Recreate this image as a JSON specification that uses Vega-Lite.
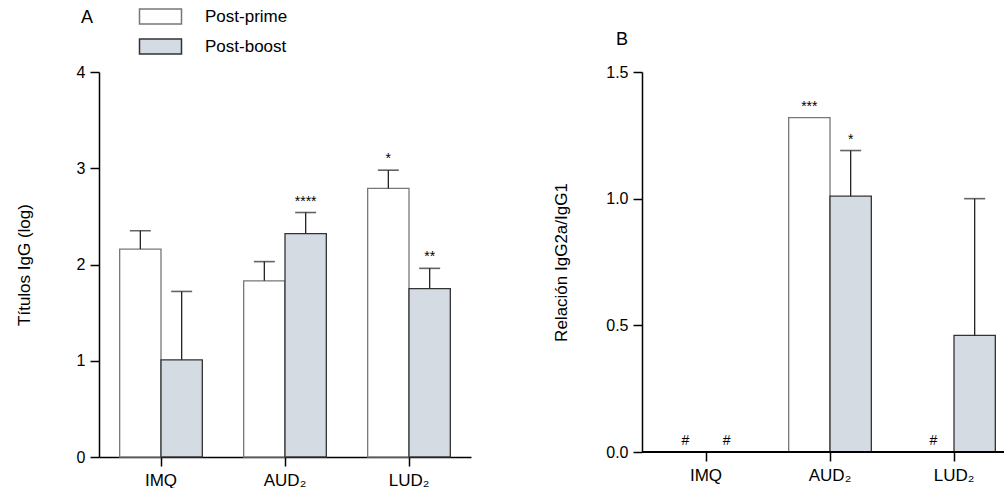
{
  "$schema": "https://vega.github.io/schema/vega-lite/v6.json",
  "padding": {"left": 15, "top": 5, "right": 0, "bottom": 0},
  "background": "white",
  "datasets": {
    "A": [
      {"group": "IMQ", "time": "Post-prime", "value": 2.16, "err": 2.35, "sig": ""},
      {"group": "IMQ", "time": "Post-boost", "value": 1.01, "err": 1.72, "sig": ""},
      {"group": "AUD₂", "time": "Post-prime", "value": 1.83, "err": 2.03, "sig": ""},
      {"group": "AUD₂", "time": "Post-boost", "value": 2.32, "err": 2.54, "sig": "****"},
      {"group": "LUD₂", "time": "Post-prime", "value": 2.79, "err": 2.98, "sig": "*"},
      {"group": "LUD₂", "time": "Post-boost", "value": 1.75, "err": 1.96, "sig": "**"}
    ],
    "B": [
      {"group": "IMQ", "time": "Post-prime", "value": 0, "err": 0, "sig": "#"},
      {"group": "IMQ", "time": "Post-boost", "value": 0, "err": 0, "sig": "#"},
      {"group": "AUD₂", "time": "Post-prime", "value": 1.32, "err": 1.32, "sig": "***"},
      {"group": "AUD₂", "time": "Post-boost", "value": 1.01, "err": 1.19, "sig": "*"},
      {"group": "LUD₂", "time": "Post-prime", "value": 0, "err": 0, "sig": "#"},
      {"group": "LUD₂", "time": "Post-boost", "value": 0.46, "err": 1.0, "sig": ""}
    ]
  },
  "config": {
    "font": "Liberation Sans",
    "view": {"stroke": null},
    "axis": {
      "domainColor": "#000", "domainWidth": 1.5,
      "tickColor": "#000", "tickWidth": 1.5, "tickSize": 9,
      "labelFontSize": 16, "labelColor": "#000", "labelFont": "Liberation Sans",
      "titleFontSize": 17, "titleFontWeight": "normal", "titleColor": "#000", "titleFont": "Liberation Sans",
      "grid": false, "labelPadding": 5
    },
    "axisX": {"labelFontSize": 17},
    "legend": {
      "labelFontSize": 17, "labelColor": "#000", "labelFont": "Liberation Sans",
      "symbolType": "M-2,-0.71H2V0.71H-2Z", "symbolSize": 441, "symbolStrokeWidth": 1.5,
      "rowPadding": 8, "labelOffset": 33
    }
  },
  "bounds": "flush",
  "spacing": 171,
  "resolve": {"scale": {"fill": "shared", "stroke": "shared"}},
  "hconcat": [
    {
      "width": 372,
      "height": 385,
      "title": {"text": "A", "anchor": "start", "frame": "group", "dx": -18, "offset": 37, "fontSize": 18, "fontWeight": "normal", "font": "Liberation Sans", "color": "#000"},
      "data": {"name": "A"},
      "encoding": {
        "x": {"field": "group", "type": "nominal", "sort": ["IMQ", "AUD₂", "LUD₂"],
              "scale": {"paddingInner": 0, "paddingOuter": 0},
              "axis": {"title": null, "labelAngle": 0, "labelPadding": 6}},
        "xOffset": {"field": "time", "type": "nominal", "sort": ["Post-prime", "Post-boost"],
                    "scale": {"paddingInner": 0, "paddingOuter": 0.5}}
      },
      "layer": [
        {
          "mark": {"type": "bar", "strokeWidth": 1.3},
          "encoding": {
            "y": {"field": "value", "type": "quantitative", "scale": {"domain": [0, 4], "nice": false},
                  "axis": {"title": "Títulos IgG (log)", "values": [0, 1, 2, 3, 4], "format": "d", "titlePadding": 43}},
            "fill": {"field": "time", "type": "nominal", "sort": ["Post-prime", "Post-boost"],
                     "scale": {"domain": ["Post-prime", "Post-boost"], "range": ["#ffffff", "#d5dbe3"]},
                     "legend": {"title": null, "orient": "none", "legendX": 50, "legendY": -67}},
            "stroke": {"field": "time", "type": "nominal", "sort": ["Post-prime", "Post-boost"],
                       "scale": {"domain": ["Post-prime", "Post-boost"], "range": ["#777777", "#333333"]},
                       "legend": {"title": null, "orient": "none", "legendX": 50, "legendY": -67}}
          }
        },
        {
          "transform": [{"filter": "datum.err > datum.value"}],
          "mark": {"type": "rule", "color": "#222", "strokeWidth": 1.3},
          "encoding": {"y": {"field": "value", "type": "quantitative"}, "y2": {"field": "err"}}
        },
        {
          "transform": [{"filter": "datum.err > datum.value"}],
          "mark": {"type": "tick", "color": "#222", "size": 21, "thickness": 1.6},
          "encoding": {"y": {"field": "err", "type": "quantitative"}}
        },
        {
          "mark": {"type": "text", "dy": -7, "baseline": "alphabetic", "fontSize": 14, "color": "#000"},
          "encoding": {"y": {"field": "err", "type": "quantitative"}, "text": {"field": "sig"}}
        }
      ]
    },
    {
      "width": 362,
      "height": 380,
      "title": {"text": "B", "anchor": "start", "frame": "group", "dx": -26, "offset": 15, "fontSize": 18, "fontWeight": "normal", "font": "Liberation Sans", "color": "#000"},
      "data": {"name": "B"},
      "layer": [
        {
          "transform": [{"filter": "datum.value > 0"}],
          "mark": {"type": "bar", "strokeWidth": 1.3},
          "encoding": {
            "x": {"field": "group", "type": "nominal", "sort": ["IMQ", "AUD₂", "LUD₂"],
                  "scale": {"paddingInner": 0, "paddingOuter": 0, "range": [2, 374]},
                  "axis": {"title": null, "labelAngle": 0, "labelPadding": 6, "domain": false}},
            "xOffset": {"field": "time", "type": "nominal", "sort": ["Post-prime", "Post-boost"],
                        "scale": {"paddingInner": 0, "paddingOuter": 0.5}},
            "y": {"field": "value", "type": "quantitative", "scale": {"domain": [0, 1.5], "nice": false},
                  "axis": {"title": "Relación IgG2a/IgG1", "values": [0, 0.5, 1, 1.5], "format": ".1f", "titlePadding": 35}},
            "fill": {"field": "time", "type": "nominal", "sort": ["Post-prime", "Post-boost"], "legend": null},
            "stroke": {"field": "time", "type": "nominal", "sort": ["Post-prime", "Post-boost"], "legend": null}
          }
        },
        {
          "transform": [{"filter": "datum.err > datum.value"}],
          "mark": {"type": "rule", "color": "#222", "strokeWidth": 1.3},
          "encoding": {
            "x": {"field": "group", "type": "nominal", "sort": ["IMQ", "AUD₂", "LUD₂"]},
            "xOffset": {"field": "time", "type": "nominal", "sort": ["Post-prime", "Post-boost"]},
            "y": {"field": "value", "type": "quantitative"}, "y2": {"field": "err"}
          }
        },
        {
          "transform": [{"filter": "datum.err > datum.value"}],
          "mark": {"type": "tick", "color": "#222", "size": 21, "thickness": 1.6},
          "encoding": {
            "x": {"field": "group", "type": "nominal", "sort": ["IMQ", "AUD₂", "LUD₂"]},
            "xOffset": {"field": "time", "type": "nominal", "sort": ["Post-prime", "Post-boost"]},
            "y": {"field": "err", "type": "quantitative"}
          }
        },
        {
          "mark": {"type": "text", "dy": -7, "baseline": "alphabetic", "fontSize": 14, "color": "#000"},
          "encoding": {
            "x": {"field": "group", "type": "nominal", "sort": ["IMQ", "AUD₂", "LUD₂"]},
            "xOffset": {"field": "time", "type": "nominal", "sort": ["Post-prime", "Post-boost"]},
            "y": {"field": "err", "type": "quantitative"}, "text": {"field": "sig"}
          }
        },
        {
          "mark": {"type": "rule", "color": "#000", "strokeWidth": 1.5},
          "encoding": {"y": {"datum": 0, "type": "quantitative"}}
        }
      ]
    }
  ]
}
